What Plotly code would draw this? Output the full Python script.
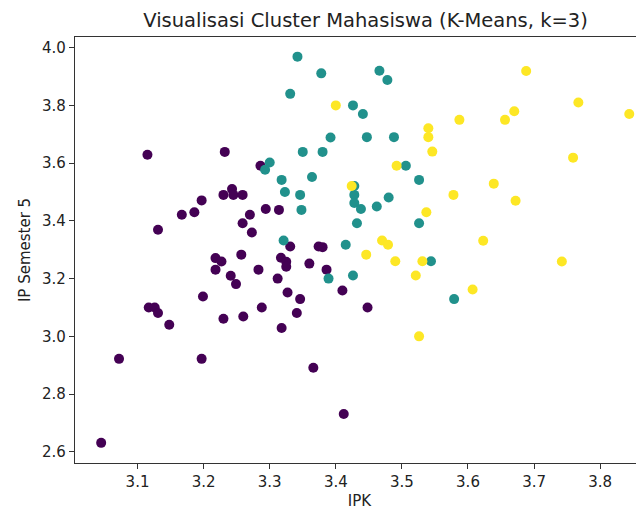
import plotly.graph_objects as go

# Cluster 0 (purple)
c0_ipk = [3.115, 3.232, 3.286, 3.230, 3.243, 3.245, 3.259, 3.197, 3.186, 3.167,
          3.131, 3.270, 3.259, 3.273, 3.294, 3.314, 3.218, 3.227, 3.257, 3.218,
          3.241, 3.249, 3.283, 3.199, 3.117, 3.126, 3.131, 3.148, 3.230, 3.260,
          3.288, 3.072, 3.197, 3.045, 3.331, 3.374, 3.380, 3.386, 3.360, 3.317,
          3.325, 3.325, 3.312, 3.327, 3.346, 3.410, 3.341, 3.448, 3.318, 3.366,
          3.412]
c0_ips = [3.629, 3.639, 3.591, 3.490, 3.510, 3.490, 3.490, 3.471, 3.430, 3.421,
          3.369, 3.421, 3.392, 3.360, 3.441, 3.438, 3.271, 3.259, 3.283, 3.231,
          3.210, 3.181, 3.231, 3.138, 3.100, 3.100, 3.081, 3.040, 3.061, 3.069,
          3.100, 2.922, 2.922, 2.631, 3.311, 3.311, 3.309, 3.231, 3.252, 3.272,
          3.258, 3.241, 3.200, 3.152, 3.129, 3.159, 3.081, 3.100, 3.029, 2.891,
          2.731]

# Cluster 1 (teal)
c1_ipk = [3.342, 3.378, 3.331, 3.466, 3.478, 3.426, 3.441, 3.392, 3.447, 3.488,
          3.350, 3.380, 3.300, 3.293, 3.506, 3.318, 3.364, 3.526, 3.323, 3.346,
          3.428, 3.428, 3.428, 3.438, 3.462, 3.480, 3.348, 3.432, 3.526, 3.321,
          3.415, 3.544, 3.426, 3.389, 3.579]
c1_ips = [3.969, 3.911, 3.840, 3.920, 3.888, 3.800, 3.770, 3.689, 3.690, 3.690,
          3.639, 3.639, 3.602, 3.577, 3.591, 3.542, 3.552, 3.542, 3.500, 3.490,
          3.521, 3.490, 3.462, 3.441, 3.450, 3.481, 3.438, 3.392, 3.392, 3.332,
          3.317, 3.260, 3.211, 3.200, 3.129]

# Cluster 2 (yellow)
c2_ipk = [3.400, 3.540, 3.540, 3.546, 3.492, 3.424, 3.578, 3.537, 3.470, 3.479,
          3.587, 3.446, 3.490, 3.531, 3.521, 3.526, 3.688, 3.767, 3.844, 3.670,
          3.656, 3.759, 3.639, 3.672, 3.623, 3.742, 3.607]
c2_ips = [3.800, 3.721, 3.690, 3.640, 3.591, 3.521, 3.490, 3.430, 3.332, 3.317,
          3.750, 3.283, 3.260, 3.260, 3.211, 3.000, 3.919, 3.810, 3.770, 3.780,
          3.750, 3.619, 3.529, 3.470, 3.331, 3.259, 3.162]

x_ticks = [3.1, 3.2, 3.3, 3.4, 3.5, 3.6, 3.7, 3.8]
y_ticks = [2.6, 2.8, 3.0, 3.2, 3.4, 3.6, 3.8, 4.0]

clusters = [(c0_ipk, c0_ips, "#440154"), (c1_ipk, c1_ips, "#21918c"), (c2_ipk, c2_ips, "#fde725")]

fig = go.Figure()
for xs, ys, col in clusters:
    fig.add_trace(go.Scatter(x=xs, y=ys, mode="markers",
                             marker=dict(size=10, color=col, line=dict(width=0)),
                             showlegend=False))

# page body has an 8px margin, so the figure is offset by 8px in the window
W, H = 636, 502
font = "DejaVu Sans, sans-serif"
fig.update_layout(
    width=W, height=H,
    margin=dict(l=67, r=0, t=29, b=46.5),
    paper_bgcolor="white", plot_bgcolor="white",
    font=dict(family=font, size=15, color="#222"),
    title=dict(text="Visualisasi Cluster Mahasiswa (K-Means, k=3)",
               x=(67 + 648) / 2 / W, xanchor="center", y=1 - 12 / H, yanchor="middle",
               font=dict(family=font, size=19.5, color="#222")),
    xaxis=dict(range=[3.0054, 3.8663], tickvals=x_ticks, ticktext=[f"{v:.1f}" for v in x_ticks],
               showgrid=False, zeroline=False, showline=True, linecolor="#333", linewidth=1.2,
               mirror=True, ticks="outside", ticklen=5, tickwidth=1.2, tickcolor="#333",
               automargin=False, tickfont=dict(size=15),
               title=dict(text="IPK", standoff=7, font=dict(size=15))),
    yaxis=dict(range=[2.5612, 4.037], tickvals=y_ticks, ticktext=[f"{v:.1f}" for v in y_ticks],
               showgrid=False, zeroline=False, showline=True, linecolor="#333", linewidth=1.2,
               ticks="outside", ticklen=5, tickwidth=1.2, tickcolor="#333",
               automargin=False, tickfont=dict(size=15),
               title=dict(text="IP Semester 5", standoff=7, font=dict(size=15))),
)

fig.write_html("out.html")
